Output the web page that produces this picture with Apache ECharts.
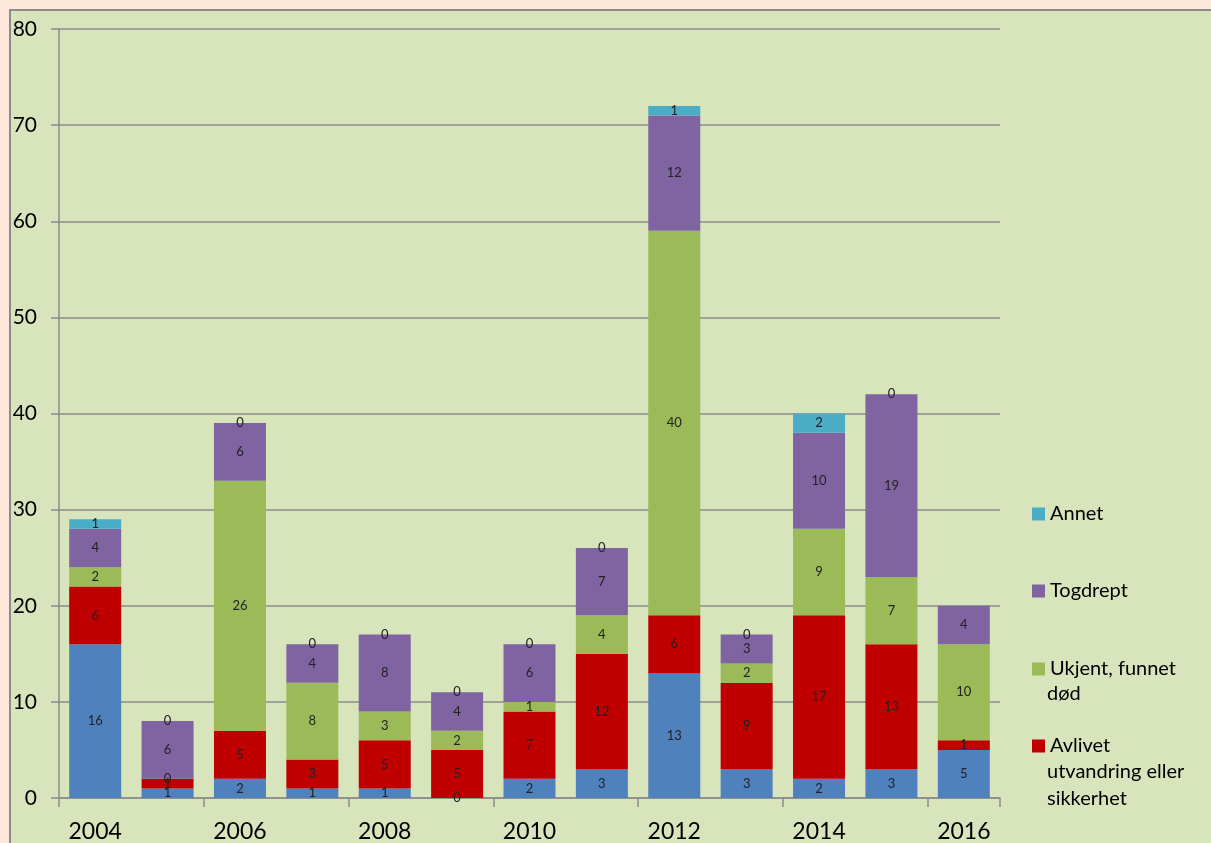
<!DOCTYPE html>
<html>
<head>
<meta charset="utf-8">
<script src="https://cdn.jsdelivr.net/npm/echarts@6/dist/echarts.min.js"></script>
<style>
  html, body { margin: 0; padding: 0; background: #fde7d9; }
  #chart { width: 1211px; height: 843px; }
</style>
</head>
<body>
<div id="chart"></div>
<script>
var years = ["2004", "2005", "2006", "2007", "2008", "2009", "2010", "2011", "2012", "2013", "2014", "2015", "2016"];
// blue series, legend entry is cut off in the original
var trafikk = [16, 1, 2, 1, 1, 0, 2, 3, 13, 3, 2, 3, 5];
var avlivet = [6, 1, 5, 3, 5, 5, 7, 12, 6, 9, 17, 13, 1];
var ukjent = [2, 0, 26, 8, 3, 2, 1, 4, 40, 2, 9, 7, 10];
var togdrept = [4, 6, 6, 4, 8, 4, 6, 7, 12, 3, 10, 19, 4];
var annet = [1, 0, 0, 0, 0, 0, 0, 0, 1, 0, 2, 0, null];

var FONT = "Lato";
var chart = echarts.init(document.getElementById("chart"));

function bar(name, data, color) {
  return {
    name: name,
    type: "bar",
    stack: "total",
    barWidth: 52,
    data: data,
    itemStyle: { color: color },
    label: {
      show: true,
      position: "inside",
      color: "#222",
      fontSize: 13,
      fontFamily: FONT
    }
  };
}

function legendAt(name, top) {
  return {
    data: [name],
    left: 1027,
    top: top,
    itemWidth: 13,
    itemHeight: 13,
    icon: "rect",
    selectedMode: false,
    formatter: function (n) { return n.split("\n")[0]; },
    textStyle: { fontSize: 20, color: "#000", fontFamily: FONT }
  };
}

var option = {
  backgroundColor: "#fde7d9",
  animation: false,
  graphic: [
    {
      type: "rect",
      z: -10,
      shape: { x: 10, y: 10, width: 1220, height: 860 },
      style: { fill: "#d8e4bc", stroke: "#8c8c8c", lineWidth: 2 }
    },
    {
      type: "text",
      left: 1047,
      top: 684,
      style: { text: "død", fontSize: 20, fill: "#000", fontFamily: FONT }
    },
    {
      type: "text",
      left: 1047,
      top: 758,
      style: { text: "utvandring eller\nsikkerhet", fontSize: 20, lineHeight: 27, fill: "#000", fontFamily: FONT }
    }
  ],
  legend: [
    legendAt("Annet", 499),
    legendAt("Togdrept", 576),
    legendAt("Ukjent, funnet\ndød", 654),
    legendAt("Avlivet\nutvandring eller\nsikkerhet", 731)
  ],
  grid: { left: 59, top: 29, right: 211, bottom: 44 },
  xAxis: {
    type: "category",
    data: years,
    axisLine: { lineStyle: { color: "#8c8c8c", width: 1.5 } },
    axisTick: { show: true, length: 9, lineStyle: { color: "#8c8c8c", width: 1.5 } },
    axisLabel: { interval: 1, fontSize: 23, color: "#000", margin: 22, fontFamily: FONT }
  },
  yAxis: {
    type: "value",
    min: 0,
    max: 80,
    interval: 10,
    axisLine: { show: true, lineStyle: { color: "#8c8c8c", width: 1.5 } },
    axisTick: { show: true, length: 8, lineStyle: { color: "#8c8c8c", width: 1.5 } },
    splitLine: { lineStyle: { color: "#8c8c8c", width: 1.5 } },
    axisLabel: { fontSize: 21, color: "#000", margin: 22, fontFamily: FONT }
  },
  series: [
    bar("Trafikkdrept", trafikk, "#4f81bd"),
    bar("Avlivet\nutvandring eller\nsikkerhet", avlivet, "#c00000"),
    bar("Ukjent, funnet\ndød", ukjent, "#9bbb59"),
    bar("Togdrept", togdrept, "#8064a2"),
    bar("Annet", annet, "#4bacc6")
  ]
};

chart.setOption(option);
</script>
</body>
</html>
